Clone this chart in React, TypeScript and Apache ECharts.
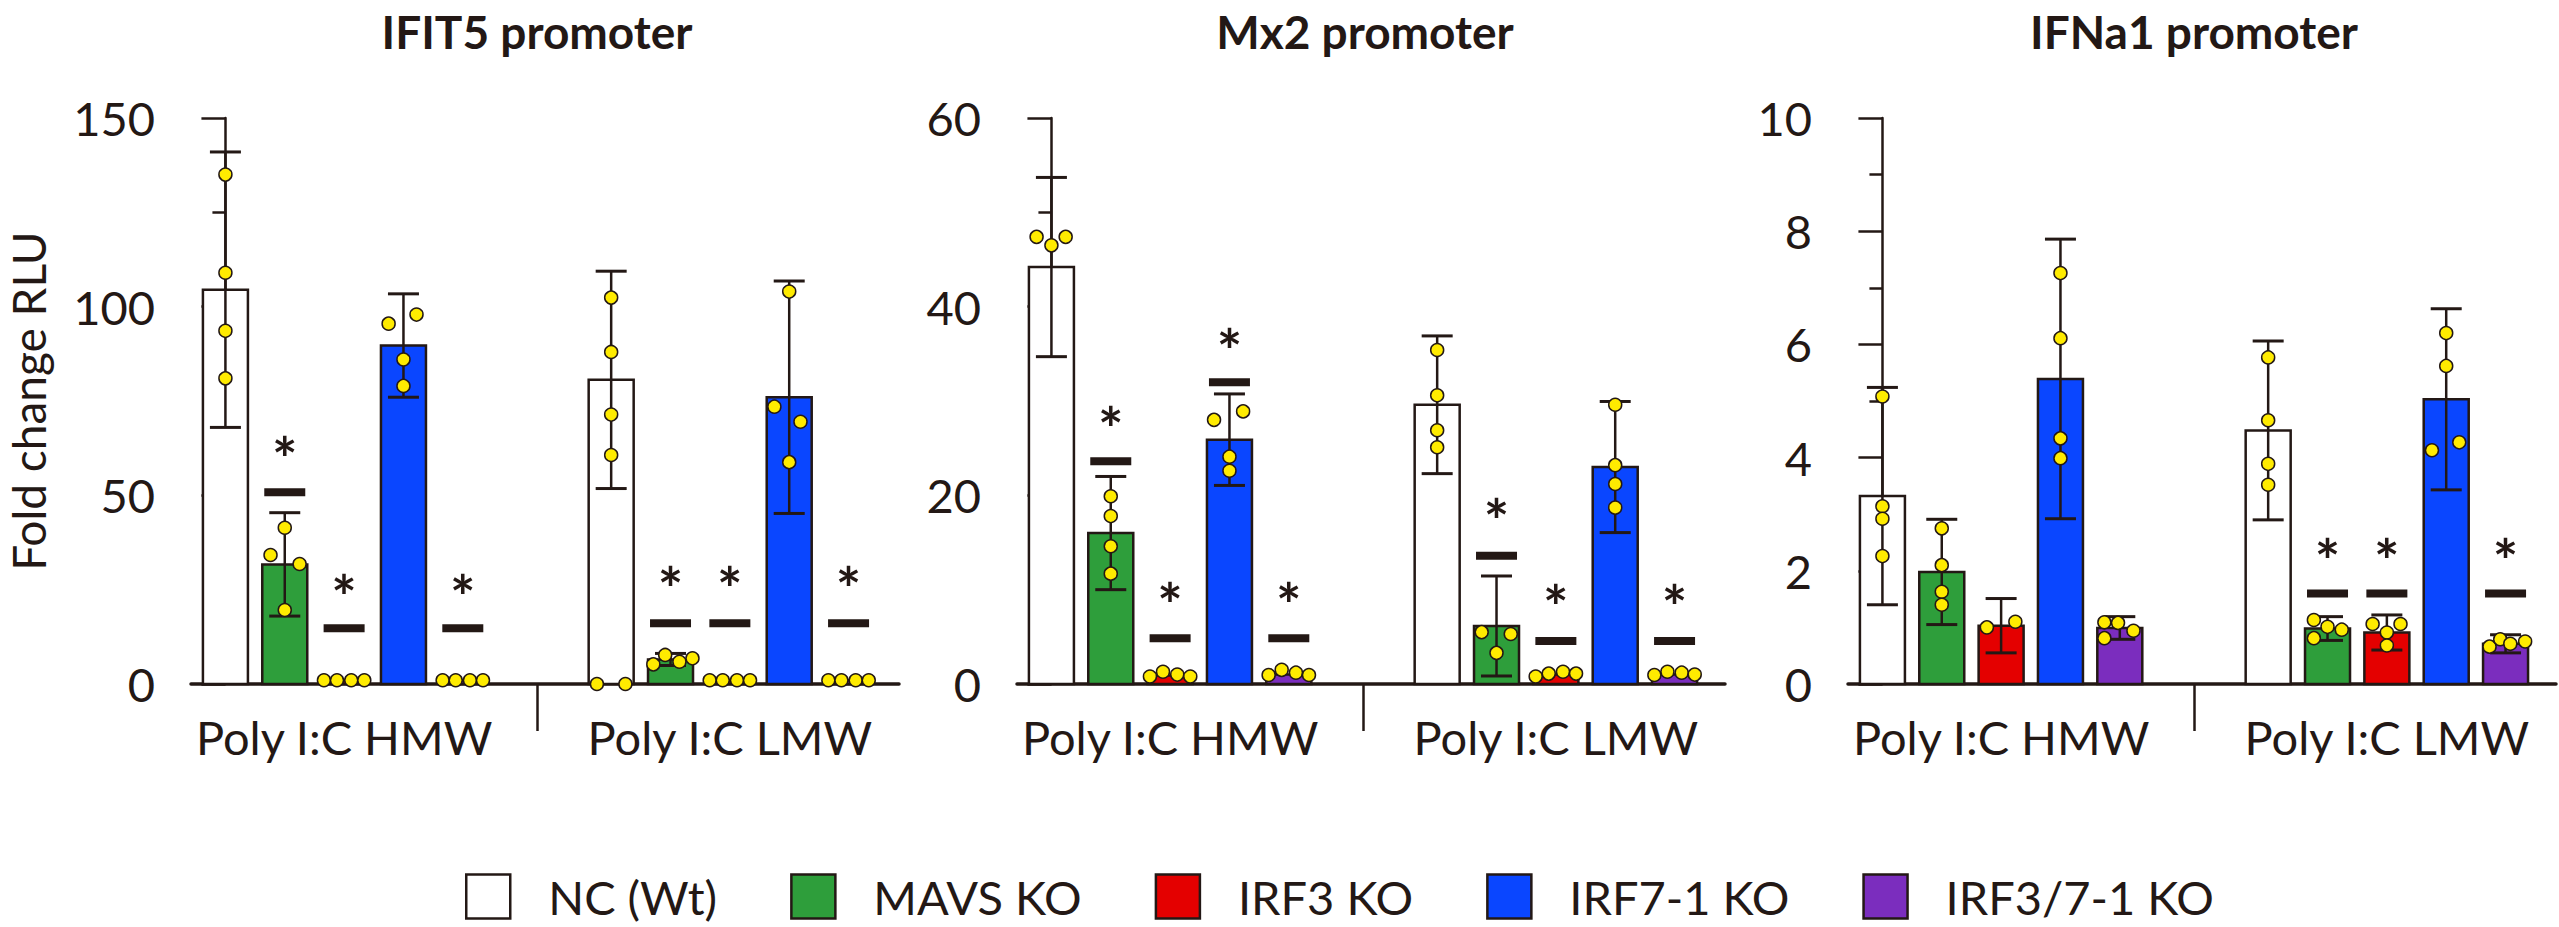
import React, { useEffect, useRef } from 'react';
import * as echarts from 'echarts';

// ---------- categories & labels ----------
const GENOTYPES = ['NC (Wt)', 'MAVS KO', 'IRF3 KO', 'IRF7-1 KO', 'IRF3/7-1 KO'];
const COLORS = ['#FFFFFF', '#2E9E3B', '#E40000', '#0A46FF', '#7B2DBE'];
const PANEL_TITLES = ['IFIT5 promoter', 'Mx2 promoter', 'IFNa1 promoter'];
const GROUP_LABELS = ['Poly I:C HMW', 'Poly I:C LMW'];
const Y_MAX = [150, 60, 10];
const Y_INTERVAL = [50, 20, 2];
const Y_NAME = 'Fold change RLU';

// ---------- IFIT5 promoter ----------
const ifit5HmwMean = [104.5, 31.7, 1.0, 89.7, 1.0];
const ifit5HmwErr = [36.5, 13.7, 0, 13.7, 0];
const ifit5LmwMean = [80.6, 6.5, 1.0, 76.0, 1.0];
const ifit5LmwErr = [28.8, 1.6, 0, 30.8, 0];
// points: [value, horizontal jitter in bar units]
const ifit5HmwPts = [
  [[135, 0], [109, 0], [93.6, 0], [81, 0]],
  [[41.4, 0], [34.2, -0.24], [31.8, 0.25], [19.6, 0]],
  [[1.0, -0.34], [1.0, -0.12], [1.0, 0.12], [1.0, 0.34]],
  [[97.9, 0.22], [95.5, -0.25], [86, 0], [79, 0]],
  [[1.0, -0.34], [1.0, -0.12], [1.0, 0.12], [1.0, 0.34]],
];
const ifit5LmwPts = [
  [[102.4, 0], [88, 0], [71.4, 0], [60.7, 0], [0, -0.24], [0, 0.24]],
  [[7.7, -0.09], [6.8, 0.37], [5.9, 0.15], [5.2, -0.29]],
  [[1.0, -0.34], [1.0, -0.12], [1.0, 0.12], [1.0, 0.34]],
  [[104, 0], [73.5, -0.25], [69.5, 0.19], [58.8, 0]],
  [[1.0, -0.34], [1.0, -0.12], [1.0, 0.12], [1.0, 0.34]],
];
// significance: [asterisk level, bar level]
const ifit5HmwSig = [null, [62.8, 50.8], [26.2, 14.8], null, [26.2, 14.8]];
const ifit5LmwSig = [null, [28.4, 16.1], [28.4, 16.1], null, [28.4, 16.1]];

// ---------- Mx2 promoter ----------
const mx2HmwMean = [44.2, 16.0, 0.9, 25.9, 1.0];
const mx2HmwErr = [9.5, 6.0, 0, 4.85, 0];
const mx2LmwMean = [29.6, 6.15, 1.0, 23.0, 1.0];
const mx2LmwErr = [7.3, 5.3, 0, 6.95, 0];
const mx2HmwPts = [
  [[47.4, -0.25], [47.4, 0.24], [46.5, 0]],
  [[19.9, 0], [17.8, 0], [14.6, 0], [11.7, 0]],
  [[0.8, -0.34], [1.3, -0.12], [1.0, 0.12], [0.8, 0.34]],
  [[28.9, 0.23], [28.0, -0.26], [24.1, 0], [22.6, 0]],
  [[0.95, -0.34], [1.5, -0.12], [1.2, 0.12], [0.95, 0.34]],
];
const mx2LmwPts = [
  [[35.4, 0], [30.6, 0], [26.9, 0], [25.1, 0]],
  [[5.5, -0.25], [5.3, 0.24], [3.3, 0]],
  [[0.8, -0.34], [1.1, -0.12], [1.3, 0.12], [1.1, 0.34]],
  [[29.6, 0], [23.2, 0], [21.2, 0], [18.7, 0]],
  [[0.95, -0.34], [1.3, -0.12], [1.2, 0.12], [1.0, 0.34]],
];
const mx2HmwSig = [null, [28.3, 23.6], [9.6, 4.84], [36.6, 32.0], [9.6, 4.84]];
const mx2LmwSig = [null, [18.5, 13.6], [9.4, 4.56], null, [9.4, 4.56]];

// ---------- IFNa1 promoter ----------
const ifnHmwMean = [3.32, 1.98, 1.03, 5.39, 0.99];
const ifnHmwErr = [1.92, 0.93, 0.48, 2.47, 0.2];
const ifnLmwMean = [4.48, 0.98, 0.91, 5.03, 0.71];
const ifnLmwErr = [1.58, 0.21, 0.31, 1.6, 0.16];
const ifnHmwPts = [
  [[5.08, 0], [3.14, 0], [2.92, 0], [2.26, 0]],
  [[2.75, 0], [2.1, 0], [1.63, 0], [1.4, 0]],
  [[1.0, -0.24], [1.1, 0.24]],
  [[7.26, 0], [6.11, 0], [4.34, 0], [3.99, 0]],
  [[1.09, -0.26], [1.08, -0.03], [0.94, 0.23], [0.81, -0.26]],
];
const ifnLmwPts = [
  [[5.77, 0], [4.66, 0], [3.89, 0], [3.52, 0]],
  [[1.13, -0.23], [1.01, 0], [0.96, 0.24], [0.81, -0.23]],
  [[1.06, -0.24], [1.06, 0.23], [0.91, 0], [0.68, 0]],
  [[6.2, 0], [5.62, 0], [4.27, 0.22], [4.13, -0.24]],
  [[0.66, -0.27], [0.79, -0.09], [0.71, 0.08], [0.75, 0.33]],
];
const ifnHmwSig = [null, null, null, null, null];
const ifnLmwSig = [null, [2.38, 1.6], [2.38, 1.6], null, [2.38, 1.6]];

const PANELS = [
  { hmw: [ifit5HmwMean, ifit5HmwErr, ifit5HmwPts, ifit5HmwSig], lmw: [ifit5LmwMean, ifit5LmwErr, ifit5LmwPts, ifit5LmwSig] },
  { hmw: [mx2HmwMean, mx2HmwErr, mx2HmwPts, mx2HmwSig], lmw: [mx2LmwMean, mx2LmwErr, mx2LmwPts, mx2LmwSig] },
  { hmw: [ifnHmwMean, ifnHmwErr, ifnHmwPts, ifnHmwSig], lmw: [ifnLmwMean, ifnLmwErr, ifnLmwPts, ifnLmwSig] },
];

// ---------- layout / style ----------
const DARK = '#231815';
const DOT = '#FFEB00';
const FONT = 'Lato';
const GRID_LEFT = [191, 1017, 1848];
const GRID_TOP = 118;
const GRID_W = 708;
const GRID_H = 566;
const TITLE_X = [537, 1365, 2194];
const X_MIN = -0.58;
const X_MAX = 11.35;
const GROUP_START = [0, 6.5];
const SEPARATOR = 5.25;
const GROUP_CENTER = [2, 8.5];
const BAR_W = 45;
const CAP_W = 31;
const DASH_W = 41;
const DASH_H = 8;
const STAR_SIZE = 60;

function barRender(color: string) {
  return (params: any, api: any) => {
    const x = api.value(0);
    const y = api.value(1);
    const top = api.coord([x, y]);
    const base = api.coord([x, 0]);
    return {
      type: 'rect',
      shape: { x: top[0] - BAR_W / 2, y: top[1], width: BAR_W, height: base[1] - top[1] },
      style: { fill: color, stroke: DARK, lineWidth: 2.5 },
    };
  };
}

function errRender(params: any, api: any) {
  const x = api.value(0);
  const m = api.value(1);
  const e = api.value(2);
  const t = api.coord([x, m + e]);
  const b = api.coord([x, m - e]);
  const h = CAP_W / 2;
  return {
    type: 'group',
    children: [
      { type: 'line', shape: { x1: t[0], y1: t[1], x2: b[0], y2: b[1] }, style: { stroke: DARK, lineWidth: 2.5 } },
      { type: 'line', shape: { x1: t[0] - h, y1: t[1], x2: t[0] + h, y2: t[1] }, style: { stroke: DARK, lineWidth: 3 } },
      { type: 'line', shape: { x1: b[0] - h, y1: b[1], x2: b[0] + h, y2: b[1] }, style: { stroke: DARK, lineWidth: 3 } },
    ],
  };
}

function sigRender(params: any, api: any) {
  const x = api.value(0);
  const s = api.coord([x, api.value(1)]);
  const d = api.coord([x, api.value(2)]);
  return {
    type: 'group',
    children: [
      { type: 'rect', shape: { x: d[0] - DASH_W / 2, y: d[1] - DASH_H / 2, width: DASH_W, height: DASH_H }, style: { fill: DARK } },
      {
        type: 'text',
        x: s[0],
        y: s[1] + STAR_SIZE * 0.18,
        style: {
          text: '*',
          fill: DARK,
          fontSize: STAR_SIZE,
          fontWeight: 'bold',
          fontFamily: FONT,
          align: 'center',
          verticalAlign: 'middle',
        },
      },
    ],
  };
}

function buildOption() {
  const grid: any[] = [];
  const xAxis: any[] = [];
  const yAxis: any[] = [];
  const series: any[] = [];

  PANELS.forEach((panel, p) => {
    grid.push({ left: GRID_LEFT[p], top: GRID_TOP, width: GRID_W, height: GRID_H, containLabel: false });
    xAxis.push({
      type: 'value',
      gridIndex: p,
      min: X_MIN,
      max: X_MAX,
      axisLine: { show: true, onZero: false, lineStyle: { color: DARK, width: 3.5 } },
      axisTick: { show: true, customValues: [SEPARATOR], length: 47, lineStyle: { color: DARK, width: 2.5 } },
      axisLabel: {
        show: true,
        customValues: GROUP_CENTER,
        formatter: (v: number) => (Math.abs(v - GROUP_CENTER[0]) < 0.5 ? GROUP_LABELS[0] : GROUP_LABELS[1]),
        fontSize: 47,
        fontFamily: FONT,
        color: DARK,
        margin: 29,
        hideOverlap: false,
      },
      splitLine: { show: false },
    });
    yAxis.push({
      type: 'value',
      gridIndex: p,
      min: 0,
      max: Y_MAX[p],
      interval: Y_INTERVAL[p],
      axisLine: { show: true, lineStyle: { color: DARK, width: 2.5 } },
      axisTick: { show: true, length: 24, lineStyle: { color: DARK, width: 2.5 } },
      minorTick: { show: true, splitNumber: 2, length: 13, lineStyle: { color: DARK, width: 2.5 } },
      axisLabel: { fontSize: 47, fontFamily: FONT, color: DARK, margin: 36 },
      splitLine: { show: false },
      minorSplitLine: { show: false },
      name: p === 0 ? Y_NAME : '',
      nameLocation: 'middle',
      nameRotate: 90,
      nameGap: 140,
      nameTextStyle: { fontSize: 46, fontFamily: FONT, color: DARK },
    });

    const groups = [panel.hmw, panel.lmw];
    // bars
    GENOTYPES.forEach((name, g) => {
      series.push({
        type: 'custom',
        name,
        xAxisIndex: p,
        yAxisIndex: p,
        silent: true,
        z: 2,
        itemStyle: { color: COLORS[g], borderColor: DARK },
        encode: { x: 0, y: 1 },
        renderItem: barRender(COLORS[g]),
        data: groups.map((gr: any, k) => [GROUP_START[k] + g, gr[0][g]]),
      });
    });
    // error bars
    const errData: any[] = [];
    groups.forEach((gr: any, k) => {
      gr[0].forEach((m: number, g: number) => {
        if (gr[1][g] > 0) errData.push([GROUP_START[k] + g, m, gr[1][g]]);
      });
    });
    series.push({
      type: 'custom',
      xAxisIndex: p,
      yAxisIndex: p,
      silent: true,
      z: 3,
      encode: { x: 0, y: 1 },
      renderItem: errRender,
      data: errData,
    });
    // individual points
    const ptData: any[] = [];
    groups.forEach((gr: any, k) => {
      gr[2].forEach((pts: number[][], g: number) => {
        pts.forEach(([v, dx]) => ptData.push([GROUP_START[k] + g + dx, v]));
      });
    });
    series.push({
      type: 'scatter',
      xAxisIndex: p,
      yAxisIndex: p,
      silent: true,
      z: 4,
      symbol: 'circle',
      symbolSize: 13,
      itemStyle: { color: DOT, borderColor: DARK, borderWidth: 1.5, opacity: 1 },
      data: ptData,
    });
    // significance marks
    const sigData: any[] = [];
    groups.forEach((gr: any, k) => {
      gr[3].forEach((s: number[] | null, g: number) => {
        if (s) sigData.push([GROUP_START[k] + g, s[0], s[1]]);
      });
    });
    if (sigData.length) {
      series.push({
        type: 'custom',
        xAxisIndex: p,
        yAxisIndex: p,
        silent: true,
        z: 5,
        encode: { x: 0, y: 1 },
        renderItem: sigRender,
        data: sigData,
      });
    }
  });

  return {
    animation: false,
    backgroundColor: '#FFFFFF',
    grid,
    xAxis,
    yAxis,
    series,
    legend: {
      left: 465,
      top: 873,
      padding: 0,
      icon: 'rect',
      itemWidth: 44,
      itemHeight: 44,
      itemGap: 73,
      selectedMode: false,
      textStyle: { fontSize: 47, fontFamily: FONT, color: DARK, padding: [0, 0, 0, 33] },
      data: GENOTYPES.map((name, i) => ({
        name,
        itemStyle: { color: COLORS[i], borderColor: DARK, borderWidth: 2.5 },
      })),
    },
    graphic: PANEL_TITLES.map((t, i) => ({
      type: 'text',
      x: TITLE_X[i],
      y: 31,
      silent: true,
      style: { text: t, fill: DARK, fontSize: 46, fontWeight: 'bold', fontFamily: FONT, align: 'center', verticalAlign: 'middle' },
    })),
  };
}

export default function App() {
  const ref = useRef<HTMLDivElement>(null);
  useEffect(() => {
    document.body.style.margin = '0';
    const chart = echarts.init(ref.current as HTMLDivElement, null, { renderer: 'svg' });
    chart.setOption(buildOption() as any);
    return () => chart.dispose();
  }, []);
  return <div ref={ref} style={{ width: 2559, height: 927 }} />;
}
